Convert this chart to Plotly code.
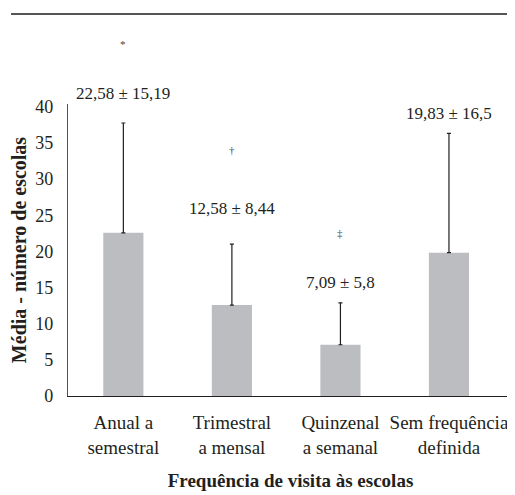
import plotly.graph_objects as go

categories = ["Anual a<br>semestral", "Trimestral<br>a mensal",
              "Quinzenal<br>a semanal", "Sem frequência<br>definida"]
means = [22.58, 12.58, 7.09, 19.83]
sds = [15.19, 8.44, 5.8, 16.5]
value_labels = ["22,58 ± 15,19", "12,58 ± 8,44", "7,09 ± 5,8", "19,83 ± 16,5"]
marks = ["*", "†", "‡", ""]
y_tick_vals = [0, 5, 10, 15, 20, 25, 30, 35, 40]

# pixel offsets of the annotations above the top of each error bar
label_shift = [30, 36, 20, 20]
mark_shift = [79, 94, 70, 0]

FONT = "Liberation Serif"
TXT = "#231f20"

fig = go.Figure()
fig.add_trace(go.Bar(
    x=categories, y=means, width=0.37,
    marker=dict(color="#bcbdc0", line=dict(width=0)),
    error_y=dict(type="data", symmetric=False, array=sds,
                 arrayminus=[0] * len(sds), color="#231f20",
                 thickness=1.2, width=2),
    hoverinfo="skip",
))

for i, cat in enumerate(categories):
    top = means[i] + sds[i]
    fig.add_annotation(x=cat, y=top, xref="x", yref="y", text=value_labels[i],
                       showarrow=False, yshift=label_shift[i], yanchor="middle",
                       font=dict(family=FONT, size=17, color=TXT))
    if marks[i]:
        fig.add_annotation(x=cat, y=top, xref="x", yref="y", text=marks[i],
                           showarrow=False, yshift=mark_shift[i], yanchor="middle",
                           font=dict(family=FONT, size=11, color="#444444"))

fig.add_shape(type="line", xref="paper", yref="paper",
              x0=-0.128, x1=1.0, y0=1.308, y1=1.308,
              line=dict(color="#555555", width=2))

# the page body adds an 8px offset, so the figure is 8px smaller than the window
fig.update_layout(
    width=507, height=487,
    margin=dict(l=60, r=2, t=96, b=99),
    paper_bgcolor="white", plot_bgcolor="white",
    showlegend=False,
    font=dict(family=FONT, color=TXT),
    xaxis=dict(
        range=[-0.51, 3.59], showgrid=False, zeroline=False,
        showline=True, linecolor="#231f20", linewidth=1.2,
        ticks="", tickfont=dict(family=FONT, size=19, color=TXT),
        ticklabelstandoff=9,
        title=dict(text="<b>Frequência de visita às escolas</b>",
                   font=dict(family=FONT, size=19, color=TXT), standoff=17),
    ),
    yaxis=dict(
        range=[0, 40.4], tickvals=y_tick_vals, showgrid=False, zeroline=False,
        showline=True, linecolor="#555555", linewidth=1.2,
        ticks="", tickfont=dict(family=FONT, size=18, color=TXT),
        ticklabelstandoff=10,
        title=dict(text="<b>Média - número de escolas</b>",
                   font=dict(family=FONT, size=20, color=TXT), standoff=8),
    ),
)

fig.write_html("out.html")
